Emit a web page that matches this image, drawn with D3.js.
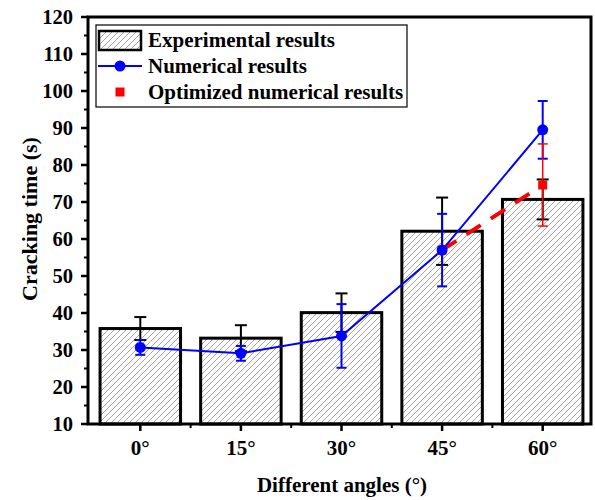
<!DOCTYPE html>
<html>
<head>
<meta charset="utf-8">
<script src="https://cdn.jsdelivr.net/npm/d3@7"></script>
<style>
  body { margin: 0; background: #fff; }
  svg text { font-family: "Liberation Serif", "Times New Roman", serif; font-weight: bold; fill: #000; }
</style>
</head>
<body>
<div id="chart"></div>
<script>
// Data
const angles = ['0°', '15°', '30°', '45°', '60°'];
const experimental = [35.8, 33.2, 40.1, 62.1, 70.7];
const experimentalErr = [3.1, 3.5, 5.2, 9.1, 5.4];
const numerical = [30.7, 29.1, 33.8, 57.0, 89.5];
const numericalErr = [2.0, 2.0, 8.6, 9.8, 7.8];
const optimizedAngles = ['45°', '60°'];
const optimized = [57.0, 74.6];
const optimizedErr = [0, 11.1];
const yTicks = [10, 20, 30, 40, 50, 60, 70, 80, 90, 100, 110, 120];

const width = 595, height = 500;
const margin = { top: 17, right: 3, bottom: 76, left: 88 };
const x0 = margin.left, x1 = width - margin.right;
const y0 = height - margin.bottom, y1 = margin.top;

const svg = d3.select('#chart').append('svg')
  .attr('width', width)
  .attr('height', height);

// Hatch pattern for the bars
const defs = svg.append('defs');
const pat = defs.append('pattern')
  .attr('id', 'hatch')
  .attr('patternUnits', 'userSpaceOnUse')
  .attr('width', 6)
  .attr('height', 6);
pat.append('rect').attr('width', 6).attr('height', 6).attr('fill', '#fff');
pat.append('path')
  .attr('d', 'M-1,1 l2,-2 M0,6 l6,-6 M5,7 l2,-2')
  .attr('stroke', '#808080')
  .attr('stroke-width', 0.7);

const x = d3.scaleBand()
  .domain(angles)
  .range([x0 + 2, x1 + 1])
  .paddingInner(0.2)
  .paddingOuter(0.1);

const cx = d => x(d) + x.bandwidth() / 2;

const y = d3.scaleLinear()
  .domain([10, 120])
  .range([y0, y1]);

// Bars
svg.append('g').selectAll('rect')
  .data(angles)
  .join('rect')
  .attr('x', d => x(d))
  .attr('y', (d, i) => y(experimental[i]))
  .attr('width', x.bandwidth())
  .attr('height', (d, i) => y(10) - y(experimental[i]))
  .attr('fill', 'url(#hatch)')
  .attr('stroke', '#000')
  .attr('stroke-width', 3);

// Error bar helper
function errorBars(g, cats, vals, errs, color, sw, capW) {
  cats.forEach((c, i) => {
    if (!errs[i]) return;
    const px = cx(c);
    const top = y(vals[i] + errs[i]), bot = y(vals[i] - errs[i]);
    g.append('line').attr('x1', px).attr('x2', px).attr('y1', top).attr('y2', bot)
      .attr('stroke', color).attr('stroke-width', sw);
    [top, bot].forEach(yy => {
      g.append('line').attr('x1', px - capW / 2).attr('x2', px + capW / 2)
        .attr('y1', yy).attr('y2', yy)
        .attr('stroke', color).attr('stroke-width', sw);
    });
  });
}

errorBars(svg.append('g'), angles, experimental, experimentalErr, '#000', 2, 12);

// Optimized numerical results (red dashed)
const optLine = d3.line()
  .x((d, i) => cx(optimizedAngles[i]))
  .y(d => y(d));

svg.append('path')
  .datum(optimized)
  .attr('d', optLine)
  .attr('fill', 'none')
  .attr('stroke', '#ff0000')
  .attr('stroke-width', 4)
  .attr('stroke-dasharray', '17,12');

// Numerical results (blue)
const numLine = d3.line()
  .x((d, i) => cx(angles[i]))
  .y(d => y(d));

svg.append('path')
  .datum(numerical)
  .attr('d', numLine)
  .attr('fill', 'none')
  .attr('stroke', '#0000ff')
  .attr('stroke-width', 2);

errorBars(svg.append('g'), angles, numerical, numericalErr, '#0000ff', 2, 10);

errorBars(svg.append('g'), optimizedAngles, optimized, optimizedErr, '#ff0000', 1.5, 10);

svg.append('g').selectAll('rect')
  .data(optimized)
  .join('rect')
  .attr('x', (d, i) => cx(optimizedAngles[i]) - 4.5)
  .attr('y', d => y(d) - 4.5)
  .attr('width', 9)
  .attr('height', 9)
  .attr('fill', '#ff0000');

svg.append('g').selectAll('circle')
  .data(numerical)
  .join('circle')
  .attr('cx', (d, i) => cx(angles[i]))
  .attr('cy', d => y(d))
  .attr('r', 5.5)
  .attr('fill', '#0000ff');

// Y axis ticks
const yAxis = svg.append('g');
yTicks.forEach(t => {
  yAxis.append('line').attr('x1', x0 - 7).attr('x2', x0).attr('y1', y(t)).attr('y2', y(t))
    .attr('stroke', '#000').attr('stroke-width', 2.5);
  yAxis.append('text').attr('x', x0 - 15).attr('y', y(t)).attr('dy', '0.35em')
    .attr('text-anchor', 'end').attr('font-size', 20.5).text(t);
});
d3.range(15, 120, 10).forEach(t => {
  yAxis.append('line').attr('x1', x0 - 4).attr('x2', x0).attr('y1', y(t)).attr('y2', y(t))
    .attr('stroke', '#000').attr('stroke-width', 2);
});

// X axis ticks
const xAxis = svg.append('g');
angles.forEach((a, i) => {
  xAxis.append('line').attr('x1', cx(a)).attr('x2', cx(a)).attr('y1', y0).attr('y2', y0 + 7)
    .attr('stroke', '#000').attr('stroke-width', 2.5);
  xAxis.append('text').attr('x', cx(a)).attr('y', y0 + 31)
    .attr('text-anchor', 'middle').attr('font-size', 21).text(a);
  if (i < angles.length - 1) {
    const mx = (cx(a) + cx(angles[i + 1])) / 2;
    xAxis.append('line').attr('x1', mx).attr('x2', mx).attr('y1', y0).attr('y2', y0 + 4)
      .attr('stroke', '#000').attr('stroke-width', 2);
  }
});

// Frame
svg.append('rect')
  .attr('x', x0).attr('y', y1)
  .attr('width', x1 - x0 - 1).attr('height', y0 - y1)
  .attr('fill', 'none').attr('stroke', '#000').attr('stroke-width', 3);

// Axis titles
svg.append('text')
  .attr('x', 342).attr('y', 492)
  .attr('text-anchor', 'middle').attr('font-size', 21)
  .text('Different angles (°)');

svg.append('text')
  .attr('transform', `translate(37,219) rotate(-90)`)
  .attr('text-anchor', 'middle').attr('font-size', 22)
  .text('Cracking time (s)');

// Legend
const lg = svg.append('g');
lg.append('rect').attr('x', 96).attr('y', 25).attr('width', 311).attr('height', 82)
  .attr('fill', '#fff').attr('stroke', '#000').attr('stroke-width', 1.2);

lg.append('rect').attr('x', 99).attr('y', 31).attr('width', 42).attr('height', 19)
  .attr('fill', 'url(#hatch)').attr('stroke', '#000').attr('stroke-width', 2.5);
lg.append('text').attr('x', 148).attr('y', 47).attr('font-size', 21).text('Experimental results');

lg.append('line').attr('x1', 98).attr('x2', 142).attr('y1', 66).attr('y2', 66)
  .attr('stroke', '#0000ff').attr('stroke-width', 2);
lg.append('circle').attr('cx', 120).attr('cy', 66).attr('r', 5.5).attr('fill', '#0000ff');
lg.append('text').attr('x', 148).attr('y', 73).attr('font-size', 21).text('Numerical results');

lg.append('rect').attr('x', 115.5).attr('y', 87.5).attr('width', 9).attr('height', 9).attr('fill', '#ff0000');
lg.append('text').attr('x', 148).attr('y', 99).attr('font-size', 21).text('Optimized numerical results');
</script>
</body>
</html>
